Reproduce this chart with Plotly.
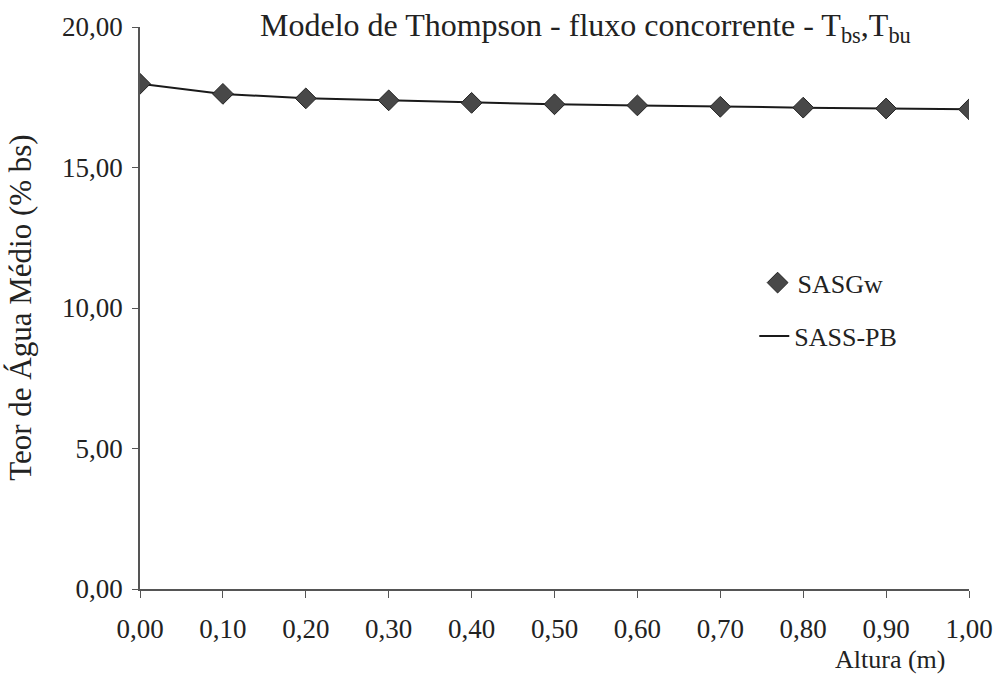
import plotly.graph_objects as go

altura = [0.0, 0.1, 0.2, 0.3, 0.4, 0.5, 0.6, 0.7, 0.8, 0.9, 1.0]
sasgw = [17.98, 17.62, 17.46, 17.39, 17.30, 17.25, 17.21, 17.16, 17.13, 17.10, 17.07]
sass_pb = [17.98, 17.62, 17.46, 17.39, 17.30, 17.25, 17.21, 17.16, 17.13, 17.10, 17.07]
x_ticks = [0.0, 0.1, 0.2, 0.3, 0.4, 0.5, 0.6, 0.7, 0.8, 0.9, 1.0]
y_ticks = [0, 5, 10, 15, 20]

FONT = "Liberation Serif"
fig = go.Figure()
fig.add_trace(go.Scatter(x=altura, y=sass_pb, mode="lines", name="SASS-PB",
                         line=dict(color="#1a1a1a", width=2), legend="legend2"))
fig.add_trace(go.Scatter(x=altura, y=sasgw, mode="markers", name="SASGw",
                         marker=dict(symbol="diamond", size=16, color="#484848",
                                     line=dict(color="#222222", width=1)),
                         legend="legend"))

fig.update_layout(
    width=1005, height=674,
    margin=dict(l=140, r=31, t=25, b=85),
    paper_bgcolor="white", plot_bgcolor="white",
    separators=",.",
    font=dict(family=FONT, size=26, color="#222222"),
    showlegend=True,
    legend=dict(x=0.745, y=0.545, xanchor="left", yanchor="middle",
                font=dict(family=FONT, size=26), bgcolor="rgba(0,0,0,0)"),
    legend2=dict(x=0.741, y=0.45, xanchor="left", yanchor="middle",
                 font=dict(family=FONT, size=26), bgcolor="rgba(0,0,0,0)"),
    annotations=[
        dict(text="Modelo de Thompson - fluxo concorrente - T<sub>bs</sub>,T<sub>bu</sub>",
             xref="paper", yref="paper", x=0.537, y=1.0, xanchor="center", yanchor="middle",
             showarrow=False, font=dict(family=FONT, size=32)),
        dict(text="Altura (m)", xref="paper", yref="paper", x=0.905, y=-0.125,
             xanchor="center", yanchor="middle", showarrow=False,
             font=dict(family=FONT, size=26)),
        dict(text="Teor de Água Médio (% bs)", xref="paper", yref="paper",
             x=-0.145, y=0.5, xanchor="center", yanchor="middle", textangle=-90,
             showarrow=False, font=dict(family=FONT, size=31)),
    ],
)
fig.update_xaxes(range=[0, 1], tickmode="array", tickvals=x_ticks, tickformat=".2f",
                 showgrid=False, zeroline=False, showline=True,
                 linecolor="#555555", linewidth=1.5,
                 ticks="outside", ticklen=7, tickcolor="#555555",
                 ticklabelstandoff=8,
                 tickfont_family=FONT, tickfont_size=27, tickfont_color="#222222")
fig.update_yaxes(range=[0, 20], tickmode="array", tickvals=y_ticks, tickformat=".2f",
                 showgrid=False, zeroline=False, showline=True,
                 linecolor="#555555", linewidth=1.5,
                 ticks="outside", ticklen=6, tickcolor="#555555",
                 ticklabelstandoff=4,
                 tickfont_family=FONT, tickfont_size=27, tickfont_color="#222222")

fig.write_html("out.html")
